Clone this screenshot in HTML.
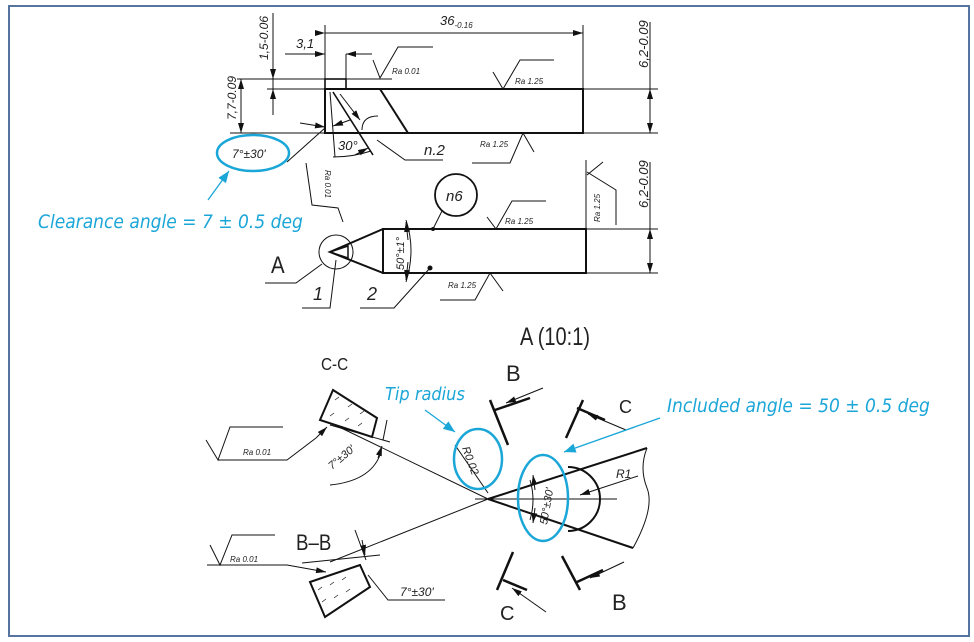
<!DOCTYPE html>
<html><head><meta charset="utf-8"><style>
html,body{margin:0;padding:0;background:#fff}
svg{display:block}
text{font-family:"Liberation Sans",sans-serif}
.d{font-family:"Liberation Sans Narrow","Liberation Sans",sans-serif;font-style:italic;fill:#222}
.c{fill:#1ba6d8;font-style:italic;font-family:"DejaVu Sans Condensed","Liberation Sans",sans-serif}
</style></head><body>
<svg width="974" height="642" viewBox="0 0 974 642" xmlns="http://www.w3.org/2000/svg">
<defs><marker id="a" viewBox="0 0 10 6" refX="10" refY="3" markerWidth="10" markerHeight="6" orient="auto"><path d="M0,0L10,3L0,6z" fill="#111"/></marker>
<marker id="b" viewBox="0 0 10 8" refX="10" refY="4" markerWidth="9" markerHeight="8" orient="auto"><path d="M0,0L10,4L0,8z" fill="#1ba6d8"/></marker></defs>
<rect x="9" y="6" width="960" height="630" fill="none" stroke="#5574a0" stroke-width="2"/>
<g stroke="#111" fill="none" stroke-width="1">
<rect x="325" y="89" width="258" height="44" stroke-width="2"/>
<rect x="325" y="79" width="21" height="10" stroke-width="1.6"/>
<line x1="380" y1="89" x2="408" y2="133" stroke-width="2"/>
<line x1="333" y1="92" x2="373" y2="155" stroke-width="1.6"/>
<line x1="330" y1="92" x2="335" y2="157"/>
<path d="M340,94 L360,120" marker-end="url(#a)"/>
<path d="M362,130 q0,-14 16,-14"/>
<line x1="237" y1="79" x2="392" y2="79"/>
<line x1="267" y1="89" x2="658" y2="89"/>
<line x1="230" y1="133" x2="658" y2="133"/>
<line x1="325" y1="25" x2="325" y2="89"/><line x1="583" y1="25" x2="583" y2="89"/>
<path d="M325,33 L583,33" marker-start="url(#a)" marker-end="url(#a)"/>
<line x1="650" y1="22" x2="650" y2="133"/>
<path d="M650,100 L650,89" marker-end="url(#a)"/><path d="M650,122 L650,133" marker-end="url(#a)"/>
<path d="M241,106 L241,79" marker-end="url(#a)"/><path d="M241,106 L241,133" marker-end="url(#a)"/>
<line x1="273" y1="13" x2="273" y2="115"/>
<path d="M273,62 L273,79" marker-end="url(#a)"/><path d="M273,110 L273,89" marker-end="url(#a)"/>
<path d="M285,54 L325,54" marker-end="url(#a)"/><path d="M372,54 L346,54" marker-end="url(#a)"/>
<line x1="346" y1="54" x2="346" y2="79"/>
<path d="M300,123 L325,127" marker-end="url(#a)"/><path d="M350,120 L333,126" marker-end="url(#a)"/>
<path d="M333,157 q20,0 38,-6" /><path d="M355,155 L368,148" marker-end="url(#a)"/>
<line x1="287" y1="162" x2="325" y2="128"/>
<path d="M373,60 L380,78 L398,47 L433,47"/>
<path d="M493,72 L503,89 L520,60 L554,60"/>
<path d="M472,163 L510,163 L523,133 L534,152"/>
<path d="M377,140 L405,160 L443,160"/>
<path d="M306,163 L312,205 L338,208 L343,222"/>
<rect x="383" y="229" width="203" height="44" stroke-width="2"/>
<path d="M383,229 L330,252 L383,273" stroke-width="2"/>
<circle cx="336" cy="252" r="17"/>
<path d="M330,252 L348,246 L348,258 z" stroke-width="1.5"/>
<circle cx="456" cy="195" r="21" stroke-width="1.8"/>
<line x1="442" y1="211" x2="433" y2="229"/><circle cx="433" cy="229" r="1.5" fill="#111"/>
<circle cx="430" cy="268" r="2" fill="#111"/>
<path d="M406,220 q10,30 0,62"/>
<path d="M408,240 L406,222" marker-end="url(#a)"/><path d="M408,262 L406,280" marker-end="url(#a)"/>
<line x1="586" y1="160" x2="586" y2="273"/>
<line x1="586" y1="229" x2="658" y2="229"/><line x1="586" y1="273" x2="658" y2="273"/>
<line x1="650" y1="162" x2="650" y2="273"/>
<path d="M650,245 L650,229" marker-end="url(#a)"/><path d="M650,258 L650,273" marker-end="url(#a)"/>
<path d="M587,175 L603,162 M587,172 L616,190 L616,225"/>
<path d="M487,217 L496,229 L512,201 L546,201"/>
<path d="M440,300 L475,300 L490,273 L503,291"/>
<path d="M265,283 L296,283 L322,264"/>
<path d="M302,308 L330,308 L336,260"/>
<path d="M360,308 L394,308 L430,268"/>
<path d="M488,499 L647,448 M488,499 L633,548" stroke-width="2"/>
<path d="M568,467 A32,32 0 0,1 568,531" stroke-width="2"/>
<path d="M647,448 q-8,20 0,40 q8,20 -14,60"/>
<line x1="475" y1="499" x2="617" y2="499"/>
<path d="M638,476 L580,495" marker-end="url(#a)"/>
<path d="M530,480 q6,20 0,40" />
<path d="M535,490 L533,475" marker-end="url(#a)"/><path d="M535,508 L533,523" marker-end="url(#a)"/>
<line x1="488" y1="499" x2="335" y2="425"/>
<line x1="488" y1="499" x2="330" y2="562"/>
<line x1="455" y1="445" x2="488" y2="493"/>
<path d="M490,400 L508,445 M495,410 L530,398" stroke-width="2.5"/>
<path d="M543,388 L506,403" marker-end="url(#a)"/>
<path d="M583,400 L566,438 M577,408 L605,420" stroke-width="2.5"/>
<path d="M626,430 L588,414" marker-end="url(#a)"/>
<path d="M513,552 L497,590 M503,580 L527,590" stroke-width="2.5"/>
<path d="M546,612 L512,588" marker-end="url(#a)"/>
<path d="M562,556 L580,590 M577,582 L603,570" stroke-width="2.5"/>
<path d="M624,562 L590,578" marker-end="url(#a)"/>
<path d="M333,390 L377,418 L372,437 L320,420 z" stroke-width="2"/>
<path d="M218,460 L287,460 L316,438" /><path d="M316,438 L327,427" marker-end="url(#a)"/>
<path d="M206,440 L218,460 L230,427 L283,427"/>
<path d="M383,440 L387,420 M330,425 L390,442"/>
<path d="M330,485 q40,-4 50,-30"/><path d="M378,458 L382,446" marker-end="url(#a)"/>
<path d="M310,582 L360,565 L370,587 L325,617 z" stroke-width="2"/>
<path d="M207,565 L287,565 L326,572" marker-end="url(#a)"/>
<path d="M210,545 L220,565 L232,535 L275,535"/>
<line x1="302" y1="563" x2="380" y2="555"/>
<path d="M355,530 L366,560 M368,575 L388,600 L445,600"/>
<path d="M362,540 L365,555" marker-end="url(#a)"/>
<g stroke-width="0.6">
<path d="M335,400 l4,-3 M348,407 l4,-3 M360,414 l4,-3 M330,416 l4,-3 M345,421 l4,-3 M358,426 l4,-3"/>
<path d="M318,590 l4,-3 M330,585 l4,-3 M342,580 l4,-3 M322,602 l4,-3 M334,598 l4,-3 M346,592 l4,-3"/>
</g>
</g>
<g stroke="#1ba6d8" fill="none" stroke-width="2.5">
<ellipse cx="253" cy="153" rx="36" ry="18"/>
<ellipse cx="478" cy="459" rx="24" ry="30"/>
<ellipse cx="543" cy="498" rx="25" ry="43"/>
</g>
<g stroke="#1ba6d8" stroke-width="1.3" fill="none">
<path d="M208,200 L229,171" marker-end="url(#b)"/>
<path d="M425,410 L455,432" marker-end="url(#b)"/>
<path d="M660,418 L564,452" marker-end="url(#b)"/>
</g>
<text class="c" x="38" y="228" font-size="19">Clearance angle = 7 ± 0.5 deg</text>
<text class="c" x="385" y="400" font-size="18">Tip radius</text>
<text class="c" x="667" y="412" font-size="19">Included angle = 50 ± 0.5 deg</text>
<g class="d">
<text x="440" y="25" font-size="13">36<tspan font-size="8" dy="3">-0.16</tspan></text>
<text x="296" y="48" font-size="13">3,1</text>
<text x="392" y="74" font-size="8">Ra 0.01</text>
<text x="515" y="84" font-size="8">Ra 1.25</text>
<text x="480" y="147" font-size="8">Ra 1.25</text>
<text x="505" y="224" font-size="8">Ra 1.25</text>
<text x="448" y="288" font-size="8">Ra 1.25</text>
<text x="232" y="158" font-size="12">7°±30'</text>
<text x="338" y="150" font-size="13">30°</text>
<text x="424" y="155" font-size="15">n.2</text>
<text x="446" y="201" font-size="15">n6</text>
<text x="313" y="300" font-size="18">1</text>
<text x="367" y="300" font-size="18">2</text>
<text transform="translate(268,60) rotate(-90)" font-size="12">1,5-0.06</text>
<text transform="translate(236,120) rotate(-90)" font-size="12">7,7-0.09</text>
<text transform="translate(648,68) rotate(-90)" font-size="13">6,2-0.09</text>
<text transform="translate(648,208) rotate(-90)" font-size="13">6,2-0.09</text>
<text transform="translate(600,222) rotate(-90)" font-size="8">Ra 1.25</text>
<text transform="translate(325,170) rotate(90)" font-size="8">Ra 0.01</text>
<text transform="translate(404,270) rotate(-90)" font-size="11">50°±1°</text>
<text transform="translate(462,448) rotate(70)" font-size="11">R0.02</text>
<text transform="translate(547,525) rotate(-80)" font-size="11">50°±30'</text>
<text x="616" y="478" font-size="12">R1</text>
<text x="243" y="455" font-size="8">Ra 0.01</text>
<text x="230" y="562" font-size="8">Ra 0.01</text>
<text transform="translate(332,470) rotate(-40)" font-size="11">7°±30'</text>
<text x="400" y="596" font-size="12">7°±30'</text>
</g>
<g font-family="Liberation Sans,sans-serif" fill="#222">
<text x="271" y="273" font-size="24" transform="translate(271,0) scale(0.85,1) translate(-271,0)">A</text>
<text x="520" y="345" font-size="25" transform="translate(520,0) scale(0.8,1) translate(-520,0)">A (10:1)</text>
<text x="321" y="370" font-size="18" transform="translate(321,0) scale(0.85,1) translate(-321,0)">C-C</text>
<text x="296" y="550" font-size="22" transform="translate(296,0) scale(0.85,1) translate(-296,0)">B–B</text>
<text x="506" y="381" font-size="22">B</text>
<text x="619" y="413" font-size="18">C</text>
<text x="500" y="620" font-size="20">C</text>
<text x="612" y="610" font-size="22">B</text>
</g>
</svg>
</body></html>
